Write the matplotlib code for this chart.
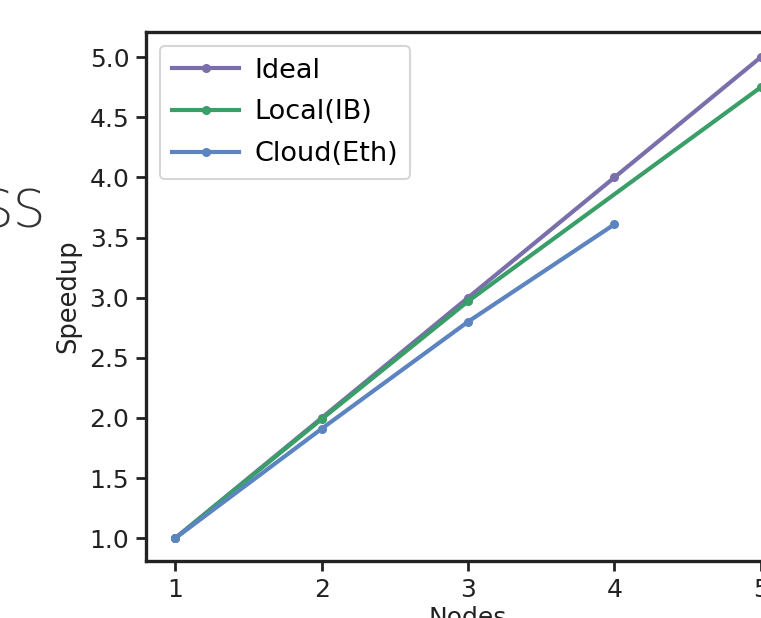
import matplotlib
matplotlib.use("Agg")
import matplotlib.pyplot as plt

nodes_ideal = [1, 2, 3, 4, 5]
speedup_ideal = [1.0, 2.0, 3.0, 4.0, 5.0]
nodes_local = [1, 2, 3, 5]
speedup_local = [1.0, 1.99, 2.97, 4.75]
nodes_cloud = [1, 2, 3, 4]
speedup_cloud = [1.0, 1.91, 2.80, 3.61]
xticks = [1, 2, 3, 4, 5]
yticks = [1.0, 1.5, 2.0, 2.5, 3.0, 3.5, 4.0, 4.5, 5.0]

c_ideal = "#7a6eab"
c_local = "#3a9e68"
c_cloud = "#5b84c0"

plt.rcParams['font.family'] = ['DejaVu Sans']
fig = plt.figure(figsize=(7.61, 6.18), dpi=100)
W, H = 761, 618
left, right, top, bottom = 146, 790, 32, 561
ax = fig.add_axes([left / W, (H - bottom) / H, (right - left) / W, (bottom - top) / H])

kw = dict(lw=3.0, marker='o', markersize=5.5)
ax.plot(nodes_ideal, speedup_ideal, color=c_ideal, label='Ideal', **kw)
ax.plot(nodes_local, speedup_local, color=c_local, label='Local(IB)', **kw)
ax.plot(nodes_cloud, speedup_cloud, color=c_cloud, label='Cloud(Eth)', **kw)

ax.set_xlim(0.8, 5.2)
ax.set_ylim(0.81, 5.21)
ax.set_xticks(xticks)
ax.set_yticks(yticks)
ax.set_yticklabels([f"{v:.1f}" for v in yticks])
ax.tick_params(labelsize=18, length=7, width=2, colors='#222222', pad=5)
for s in ax.spines.values():
    s.set_linewidth(2.4)
    s.set_color('#222222')
ax.set_xlabel('Nodes', fontsize=18, color='#222222', labelpad=3)
ax.set_ylabel('Speedup', fontsize=18.5, color='#222222', labelpad=6)

leg = ax.legend(loc='upper left', fontsize=19.5, frameon=True, fancybox=True,
                handlelength=2.5, handletextpad=0.55, borderpad=0.45,
                labelspacing=0.58, borderaxespad=0.5)
leg.get_frame().set_edgecolor('#cccccc')
leg.get_frame().set_linewidth(1.5)

fig.text(46 / W, (H - 228) / H, 'SS', fontsize=37, ha='right', va='baseline',
         color='#333333', family='DejaVu Sans', weight='light')

fig.savefig('out.png', dpi=100)
